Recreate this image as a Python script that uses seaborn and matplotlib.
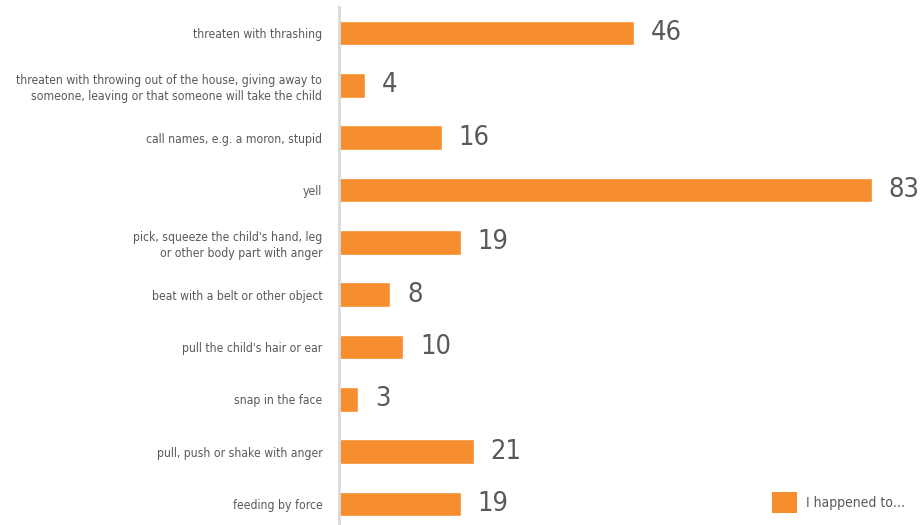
import matplotlib
matplotlib.use("Agg")
import matplotlib.pyplot as plt
from matplotlib import font_manager as fm
import seaborn as sns
import pandas as pd
from matplotlib.patches import Patch

categories = [
    "threaten with thrashing",
    "threaten with throwing out of the house, giving away to\nsomeone, leaving or that someone will take the child",
    "call names, e.g. a moron, stupid",
    "yell",
    "pick, squeeze the child's hand, leg\nor other body part with anger",
    "beat with a belt or other object",
    "pull the child's hair or ear",
    "snap in the face",
    "pull, push or shake with anger",
    "feeding by force",
]
values = [46, 4, 16, 83, 19, 8, 10, 3, 21, 19]
series_name = "I happened to\u2026"

df = pd.DataFrame({"category": categories, "value": values})

sns.set_theme(style="white")

# pick a narrow face if one is installed
narrow = None
for f in fm.fontManager.ttflist:
    n = (f.name + " " + f.fname).lower()
    if ("condensed" in n or "narrow" in n) and "bold" not in n and "italic" not in n and "oblique" not in n:
        narrow = f.fname
        break

if narrow:
    lab_font = fm.FontProperties(fname=narrow, size=8.7)
    val_font = fm.FontProperties(fname=narrow, size=19.5)
    leg_font = fm.FontProperties(fname=narrow, size=10)
else:
    lab_font = fm.FontProperties(family="DejaVu Sans", size=7.6)
    val_font = fm.FontProperties(family="DejaVu Sans", size=16)
    leg_font = fm.FontProperties(family="DejaVu Sans", size=8.5)

bar_color = "#F68D2E"
text_color = "#595959"

fig = plt.figure(figsize=(9.22, 5.25), dpi=100)
ax = fig.add_axes([339 / 922, -5 / 525, 583 / 922, 523 / 525])

sns.barplot(data=df, x="value", y="category", color=bar_color,
            width=0.47, saturation=1, ax=ax, orient="h")

ax.set_xlim(0, 90.8)
ax.set_ylim(len(categories) - 0.5, -0.5)
ax.set_xlabel("")
ax.set_ylabel("")
ax.set_xticks([])
ax.tick_params(axis="y", length=0, pad=12, labelcolor=text_color)
for lbl in ax.get_yticklabels():
    lbl.set_fontproperties(lab_font)
    lbl.set_horizontalalignment("right")
    lbl.set_multialignment("right")
    lbl.set_linespacing(1.35)

for s in ["top", "right", "bottom"]:
    ax.spines[s].set_visible(False)
ax.spines["left"].set_color("#D9D9D9")
ax.spines["left"].set_linewidth(2)

for i, v in enumerate(values):
    ax.text(v + 2.6, i, str(v), va="center", ha="left",
            fontproperties=val_font, color=text_color)

handle = Patch(facecolor=bar_color, edgecolor="none")
fig.legend([handle], [series_name], loc="lower left",
           bbox_to_anchor=(759 / 922, 0.0), frameon=False,
           prop=leg_font, labelcolor=text_color,
           handlelength=1.8, handleheight=1.9, handletextpad=0.7,
           borderaxespad=0.5)

fig.savefig("out.png", dpi=100)
